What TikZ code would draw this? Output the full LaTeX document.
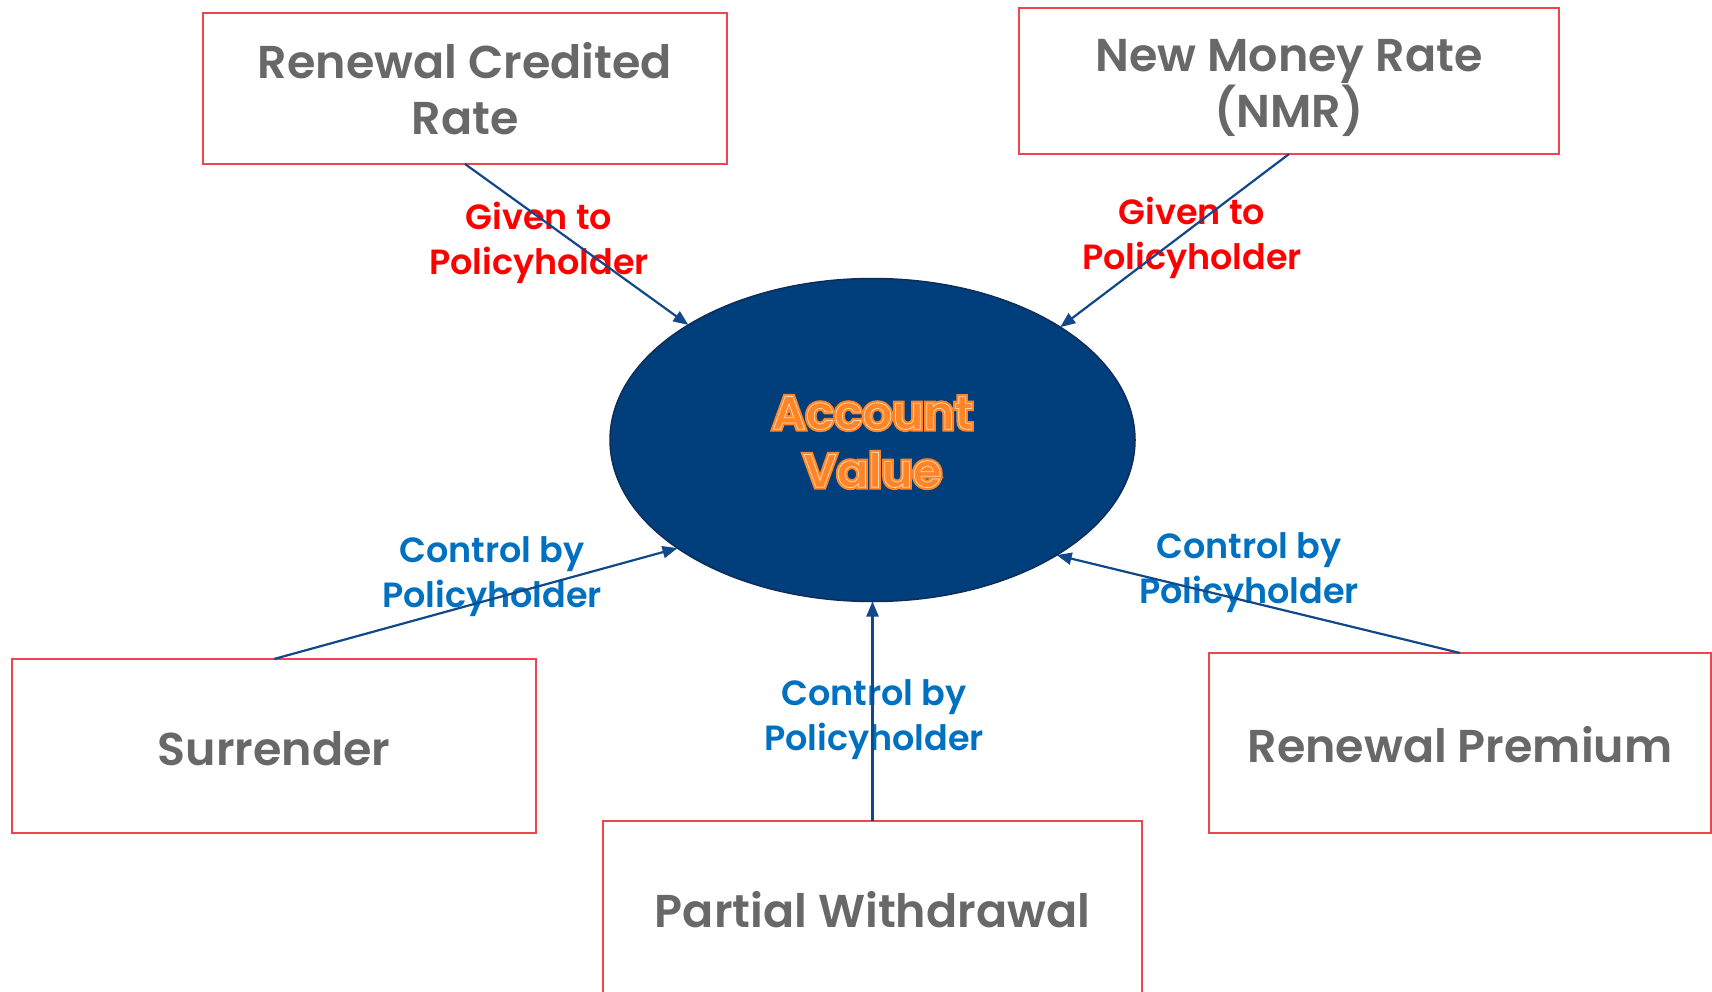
\documentclass[tikz,border=0pt]{standalone}
\usepackage{fontspec}
\setmainfont{Poppins}[BoldFont={Poppins SemiBold}]
\usetikzlibrary{shapes.geometric,arrows.meta}

\definecolor{boxred}{RGB}{240,68,80}
\definecolor{txtgray}{RGB}{104,104,104}
\definecolor{navy}{RGB}{0,62,124}
\definecolor{navyedge}{RGB}{14,45,90}
\definecolor{linkblue}{RGB}{16,72,138}
\definecolor{lblred}{RGB}{255,0,0}
\definecolor{lblblue}{RGB}{0,112,192}
\definecolor{avorange}{RGB}{255,133,40}
\definecolor{avlight}{RGB}{255,214,170}

% text render modes for the outlined centre title
\newcommand{\trfill}[1]{\special{pdf:literal direct 2 Tr #1 w}}
\newcommand{\trline}[1]{\special{pdf:literal direct 1 Tr #1 w}}
\newcommand{\trreset}{\special{pdf:literal direct 0 Tr}}

\tikzset{
  factor/.style={draw=boxred, line width=2.5pt, fill=white,
    inner sep=0pt, outer sep=0pt},
  factortext/.style={text=txtgray, font=\fontsize{46}{56}\selectfont\bfseries,
    align=center, inner sep=0pt},
  hub/.style={ellipse, draw=navyedge, line width=1.5pt, fill=navy,
    inner sep=0pt, outer sep=0pt, minimum width=525pt, minimum height=323pt},
  hubtext/.style={font=\fontsize{47}{58}\selectfont\bfseries, align=center,
    inner sep=0pt},
  givelbl/.style={text=lblred, font=\fontsize{35}{45}\selectfont\bfseries,
    align=center, inner sep=0pt},
  ctrllbl/.style={text=lblblue, font=\fontsize{35}{45}\selectfont\bfseries,
    align=center, inner sep=0pt},
  link/.style={draw=linkblue, line width=2.2pt,
    -{Triangle[length=15pt,width=12pt]}}
}

\begin{document}
\begin{tikzpicture}[x=1pt,y=-1pt]
\useasboundingbox (0,0) rectangle (1712,992);
\clip (0,0) rectangle (1712,992);

% centre ellipse
\node[hub] (av) at (872.5,440) {};
\node[hubtext, text=avorange] (avt) at (872.5,442)
  {\trfill{5}Account\\Value\trreset};
\node[hubtext, text=avlight] (avl) at (872.5,442)
  {\trline{0.8}Account\\Value\trreset};

% surrounding factors
\node[factor, minimum width=524pt, minimum height=151pt] (rcr) at (465,88.5) {};
\node[factortext] (rcrt) at (465,89) {Renewal Credited\\Rate};
\node[factor, minimum width=540pt, minimum height=146pt] (nmr) at (1289,81) {};
\node[factortext] (nmrt) at (1289,88) {New Money Rate\\(NMR)};
\node[factor, minimum width=524pt, minimum height=174pt] (sur) at (274,746) {};
\node[factortext] (surt) at (274,749) {Surrender};
\node[factor, minimum width=539pt, minimum height=182pt] (pw) at (872.5,912) {};
\node[factortext] (pwt) at (872.5,910) {Partial Withdrawal};
\node[factor, minimum width=502pt, minimum height=180pt] (rp) at (1460,743) {};
\node[factortext] (rpt) at (1460,745) {Renewal Premium};

% connector labels
\node[givelbl] (g1) at (539,243) {Given to\\Policyholder};
\node[givelbl] (g2) at (1192,238) {Given to\\Policyholder};
\node[ctrllbl] (c1) at (492,577) {Control by\\Policyholder};
\node[ctrllbl] (c2) at (874,720) {Control by\\Policyholder};
\node[ctrllbl] (c3) at (1249,573) {Control by\\Policyholder};

% connectors
\draw[link] (rcr.south) -- (av.148.1);
\draw[link] (nmr.south) -- (av.31.9);
\draw[link] (sur.north) -- (av.209.2);
\draw[link] (pw.north) -- (av.south);
\draw[link] (rp.north) -- (av.328.3);
\end{tikzpicture}
\end{document}
